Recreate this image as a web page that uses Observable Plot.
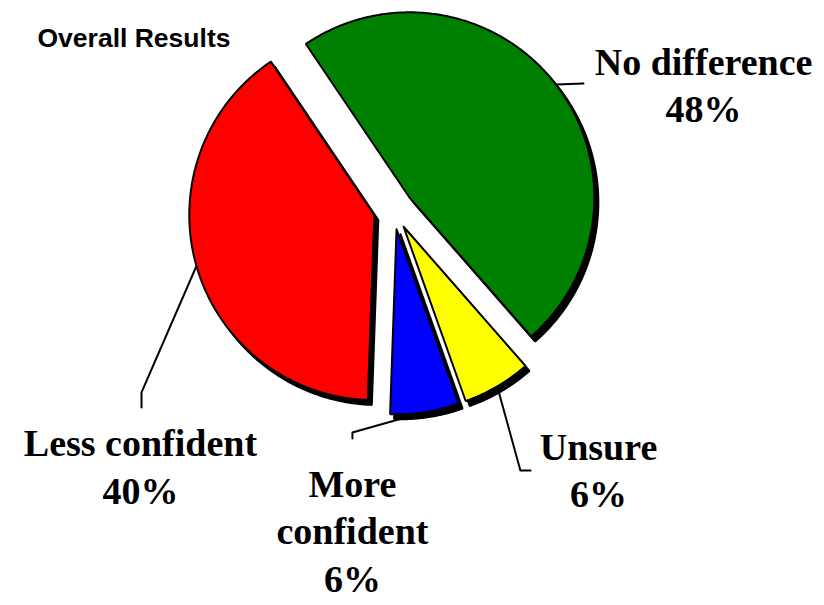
<!DOCTYPE html>
<html><head><meta charset="utf-8">
<script src="https://cdn.jsdelivr.net/npm/d3@7"></script>
<script src="https://cdn.jsdelivr.net/npm/@observablehq/plot@0.6"></script>
<style>body{margin:0;background:#fff}#chart svg{display:block}</style>
</head><body><div id="chart"></div>
<script>
// ---- data ----
const title = "Overall Results";
const categories = ["No difference", "Unsure", "More confident", "Less confident"];
const values = [48, 6, 6, 40];
const labelTexts = ["No difference\n48%", "Unsure\n6%", "More\nconfident\n6%", "Less confident\n40%"];
const colors = ["#008000", "#ffff00", "#0000ff", "#ff0000"];

// ---- layout (in pie-radius units, relative to pie centre) ----
const startAngleDeg = -34;
const explode = 0.108;
const labelAt = [[1.676, 0.913], [1.108, -1.168], [-0.222, -1.368], [-1.368, -1.151]];
const leaderBends = [
  [[1.027, 0.681]],
  [[0.686, -1.411], [0.741, -1.411]],
  [[-0.222, -1.205], [-0.222, -1.238]],
  [[-1.362, -0.989], [-1.362, -1.070]]
];

// ---- geometry from the values ----
const a0 = startAngleDeg * Math.PI / 180;
const arcs = d3.pie().sort(null).startAngle(a0).endAngle(a0 + 2 * Math.PI)(values);
const slicePts = [];
const leaderPts = [];
arcs.forEach((p, i) => {
  const mid = (p.startAngle + p.endAngle) / 2;
  const ox = explode * Math.sin(mid), oy = explode * Math.cos(mid);
  const pts = [[ox, oy]];
  const n = Math.max(4, Math.ceil((p.endAngle - p.startAngle) / (Math.PI / 360)));
  for (let k = 0; k <= n; k++) {
    const a = p.startAngle + (p.endAngle - p.startAngle) * k / n;
    pts.push([ox + Math.sin(a), oy + Math.cos(a)]);
  }
  pts.push([ox, oy]);
  pts.forEach(([x, y], k) => slicePts.push({name: categories[i], x, y, k}));
  const anchor = [ox + Math.sin(mid), oy + Math.cos(mid)];
  [anchor, ...leaderBends[i]].forEach(([x, y]) => leaderPts.push({name: categories[i], x, y}));
});
const labels = categories.map((c, i) => ({name: c, text: labelTexts[i], x: labelAt[i][0], y: labelAt[i][1]}));

const chart = Plot.plot({
  width: 824, height: 605,
  margin: 0,
  x: {domain: [-393 / 185, 431 / 185], range: [0, 824], axis: null},
  y: {domain: [-396 / 185, 209 / 185], range: [605, 0], axis: null},
  color: {domain: categories, range: colors},
  style: {background: "white"},
  marks: [
    Plot.line(leaderPts, {x: "x", y: "y", z: "name", stroke: "black", strokeWidth: 2}),
    Plot.line(slicePts, {x: "x", y: "y", z: "name", fill: "black", stroke: "black", strokeWidth: 2, dx: 4, dy: 5, strokeLinejoin: "miter"}),
    Plot.line(slicePts, {x: "x", y: "y", z: "name", fill: "name", stroke: "black", strokeWidth: 2, strokeLinejoin: "miter"}),
    Plot.text(labels, {x: "x", y: "y", text: "text", textAnchor: "middle", lineAnchor: "top", lineHeight: 1.26,
      fontSize: 38, fontWeight: "bold", fontFamily: "'Liberation Serif', 'Times New Roman', serif", fill: "black"}),
    Plot.text([title], {frameAnchor: "top-left", dx: 37, dy: 28, textAnchor: "start", lineAnchor: "top",
      fontSize: 26.5, fontWeight: "bold", fontFamily: "'Liberation Sans', Arial, sans-serif", fill: "black"})
  ]
});
document.getElementById("chart").appendChild(chart);
</script>
</body></html>
